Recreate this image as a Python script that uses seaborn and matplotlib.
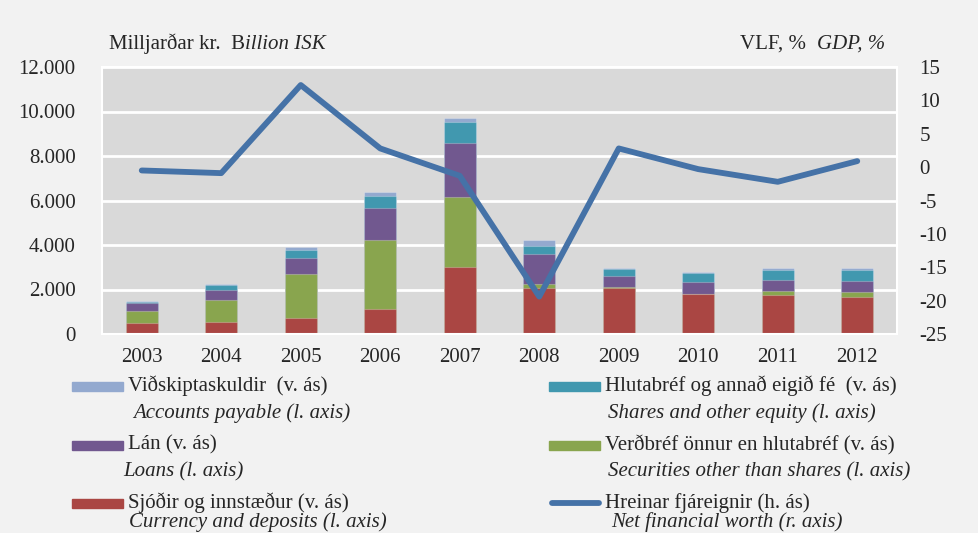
import matplotlib
matplotlib.use("Agg")
import matplotlib.pyplot as plt
import matplotlib.ticker as mticker
from matplotlib.patches import Rectangle
from matplotlib.lines import Line2D
import seaborn as sns
import pandas as pd
import numpy as np

years = [2003, 2004, 2005, 2006, 2007, 2008, 2009, 2010, 2011, 2012]
# Stacked components, billion ISK (left axis)
currency = [480, 550, 700, 1120, 3020, 2080, 2050, 1780, 1770, 1680]
securities = [550, 990, 2010, 3100, 3120, 180, 50, 30, 160, 210]
loans = [350, 440, 710, 1430, 2450, 1320, 510, 510, 510, 510]
shares = [70, 220, 350, 550, 940, 390, 300, 400, 450, 490]
payables = [30, 30, 130, 170, 200, 240, 60, 60, 80, 90]
# Net financial worth, % of GDP (right axis)
net_worth = [-0.5, -0.9, 12.3, 2.8, -1.3, -19.4, 2.8, -0.3, -2.2, 0.9]

col_currency = "#AA4643"
col_securities = "#89A54E"
col_loans = "#71588F"
col_shares = "#4198AF"
col_payables = "#93A9CF"
col_line = "#4572A7"

df = pd.DataFrame({"year": years, "currency": currency, "securities": securities,
                   "loans": loans, "shares": shares, "payables": payables,
                   "net": net_worth})

sns.set_style("white")
plt.rcParams["font.family"] = ["Liberation Serif", "DejaVu Serif"]
plt.rcParams["axes.unicode_minus"] = False
FS = 15

W, H = 979, 533
fig = plt.figure(figsize=(W / 100, H / 100), dpi=100, facecolor="#f2f2f2")
ax = fig.add_axes([102 / W, 1 - 334 / H, 795 / W, 267 / H])
ax.set_facecolor("#d9d9d9")

layers = [("payables", col_payables), ("shares", col_shares), ("loans", col_loans),
          ("securities", col_securities), ("currency", col_currency)]
order = ["currency", "securities", "loans", "shares", "payables"]
cum = df[order].cumsum(axis=1)
for name, color in layers:
    sns.barplot(x=df["year"], y=cum[name], color=color, width=0.4,
                native_scale=True, saturation=1, ax=ax,
                edgecolor=(1, 1, 1, 0.25), linewidth=0.8)

ax.set_ylim(0, 12000)
ax.set_xlim(2002.5, 2012.5)
ax.set_yticks(np.arange(0, 12001, 2000))
ax.yaxis.set_major_formatter(mticker.FuncFormatter(lambda v, p: f"{int(v):,}".replace(",", ".")))
ax.set_xticks(years)
ax.set_xticklabels([str(y) for y in years])
ax.grid(axis="y", color="white", linewidth=2)
ax.set_axisbelow(True)
for s in ax.spines.values():
    s.set_color("white")
    s.set_linewidth(1.5)
ax.tick_params(axis="y", length=0, pad=19, labelsize=FS)
ax.tick_params(axis="x", length=0, pad=10, labelsize=FS)
ax.set_xlabel("")
ax.set_ylabel("")

ax2 = ax.twinx()
sns.lineplot(x=df["year"], y=df["net"], color=col_line, linewidth=4.2, ax=ax2,
             solid_capstyle="round", solid_joinstyle="round")
ax2.set_ylim(-25, 15)
ax2.set_yticks(np.arange(-25, 16, 5))
ax2.tick_params(axis="y", length=0, pad=16, labelsize=FS)
ax2.set_ylabel("")
ax2.set_xlabel("")
for s in ax2.spines.values():
    s.set_visible(False)
ax2.set_xlim(2002.5, 2012.5)


def rich_text(x, y, parts, ha="left"):
    # chain text pieces with different styles on one baseline
    t = fig.text(x / W, 1 - y / H, parts[0][0], fontsize=FS, style=parts[0][1],
                 va="baseline", ha="left")
    texts = [t]
    for s, st in parts[1:]:
        t = fig.text(0, 0, s, fontsize=FS, style=st, va="baseline", ha="left")
        texts.append(t)
    fig.canvas.draw()
    r = fig.canvas.get_renderer()
    xpos = x
    widths = [tt.get_window_extent(r).width for tt in texts]
    if ha == "right":
        xpos = x - sum(widths)
    for tt, w in zip(texts, widths):
        tt.set_position((xpos / W, 1 - y / H))
        xpos += w


# axis titles
rich_text(109, 49, [("Milljarðar kr.  B", "normal"), ("illion ISK", "italic")])
rich_text(885, 49, [("VLF, %  ", "normal"), ("GDP, %", "italic")], ha="right")

# legend
legend_items = [
    (72, 386, col_payables, "Viðskiptaskuldir  (v. ás)", 133, 413, "Accounts payable (l. axis)", "bar"),
    (549, 386, col_shares, "Hlutabréf og annað eigið fé  (v. ás)", 608, 413, "Shares and other equity (l. axis)", "bar"),
    (72, 445, col_loans, "Lán (v. ás)", 123, 472, "Loans (l. axis)", "bar"),
    (549, 445, col_securities, "Verðbréf önnur en hlutabréf (v. ás)", 608, 472, "Securities other than shares (l. axis)", "bar"),
    (72, 503, col_currency, "Sjóðir og innstæður (v. ás)", 129, 522, "Currency and deposits (l. axis)", "bar"),
    (549, 503, col_line, "Hreinar fjáreignir (h. ás)", 611, 522, "Net financial worth (r. axis)", "line"),
]
for hx, hy, color, ice, ex, ey, eng, kind in legend_items:
    if kind == "bar":
        fig.patches.append(Rectangle((hx / W, 1 - (hy + 5) / H), 51 / W, 9 / H,
                                     transform=fig.transFigure, color=color))
    else:
        fig.lines.append(Line2D([(hx + 3) / W, (hx + 50) / W], [1 - hy / H] * 2,
                                transform=fig.transFigure, color=color, linewidth=4.2,
                                solid_capstyle="round"))
    fig.text((hx + 56) / W, 1 - hy / H, ice, fontsize=FS, va="center", ha="left")
    fig.text(ex / W, 1 - ey / H, eng, fontsize=FS, va="center", ha="left",
             style="italic")

fig.savefig("out.png", dpi=100, facecolor=fig.get_facecolor())
